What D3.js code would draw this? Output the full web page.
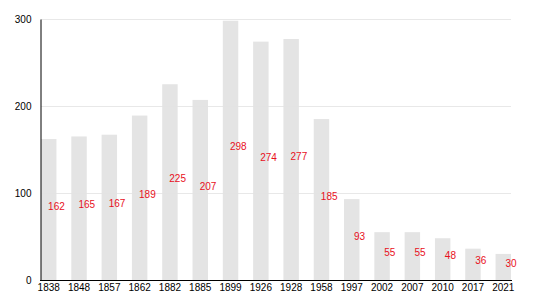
<!DOCTYPE html>
<html>
<head>
<meta charset="utf-8">
<script src="https://cdn.jsdelivr.net/npm/d3@7"></script>
<style>
  body { margin: 0; background: #fff; }
  text { font-family: "Liberation Sans", Arial, sans-serif; }
</style>
</head>
<body>
<svg id="thesvg" width="550" height="300"></svg>
<script>
'use strict';

let years = ["1838", "1848", "1857", "1862", "1882", "1885", "1899", "1926",
             "1928", "1958", "1997", "2002", "2007", "2010", "2017", "2021"],
    values = [162, 165, 167, 189, 225, 207, 298, 274, 277, 185, 93, 55, 55, 48, 36, 30],
    yTicks = [0, 100, 200, 300];

var svg = d3.select("#thesvg"),
    margin = {top: 19, right: 39, bottom: 20, left: 41},
    width = svg.attr("width") - margin.left - margin.right,
    height = svg.attr("height") - margin.top - margin.bottom,
    x = d3.scaleBand().domain(years).range([0, width]).paddingInner(0.49).paddingOuter(0),
    y = d3.scaleLinear().domain([0, 300]).range([height, 0]);

var data = years.map(function(d, i) { return {year: d, val: values[i]}; });

let g = svg.append("g")
    .attr("transform", "translate(" + margin.left + "," + margin.top + ")");

// bars
g.selectAll(".bar")
    .data(data)
  .enter().append("rect")
    .attr("class", "bar")
    .attr("x", function(d) { return x(d.year); })
    .attr("y", function(d) { return y(d.val); })
    .attr("width", x.bandwidth())
    .attr("height", function(d) { return y(0) - y(d.val); })
    .attr("fill", "#e4e4e4");

// gridlines on top, faint
g.append("g")
    .attr("class", "grid")
    .selectAll("line")
    .data(yTicks.slice(1))
  .enter().append("line")
    .attr("x1", 0)
    .attr("x2", width)
    .attr("y1", function(d) { return Math.round(y(d)) + 0.5; })
    .attr("y2", function(d) { return Math.round(y(d)) + 0.5; })
    .attr("stroke", "#e2e2e2")
    .attr("stroke-opacity", 0.8);

// y axis
let ya = g.append("g")
    .attr("transform", "translate(-0.5,0)")
    .call(d3.axisLeft(y).tickValues(yTicks).tickSize(0).tickPadding(9));
ya.select(".domain").attr("stroke", "#000");
ya.selectAll("text").style("font-size", "10px").style("fill", "#000")
    .style("font-family", "Liberation Sans, Arial, sans-serif");

// x axis
let xa = g.append("g")
    .attr("transform", "translate(0," + (height + 0.5) + ")")
    .call(d3.axisBottom(x).tickSize(0).tickPadding(3));
xa.select(".domain").attr("stroke", "#000").attr("d", "M-1,0H" + (width + 1));
xa.selectAll("text").style("font-size", "10px").style("fill", "#000")
    .style("font-family", "Liberation Sans, Arial, sans-serif");

// value labels, centred on the right edge of each bar, baseline at half height
g.selectAll(".vlabel")
    .data(data)
  .enter().append("text")
    .attr("class", "vlabel")
    .attr("x", function(d) { return x(d.year) + x.bandwidth(); })
    .attr("y", function(d) { return y(d.val / 2); })
    .attr("text-anchor", "middle")
    .style("font-size", "10px")
    .style("fill", "#e8101c")
    .text(function(d) { return d.val; });
</script>
</body>
</html>
